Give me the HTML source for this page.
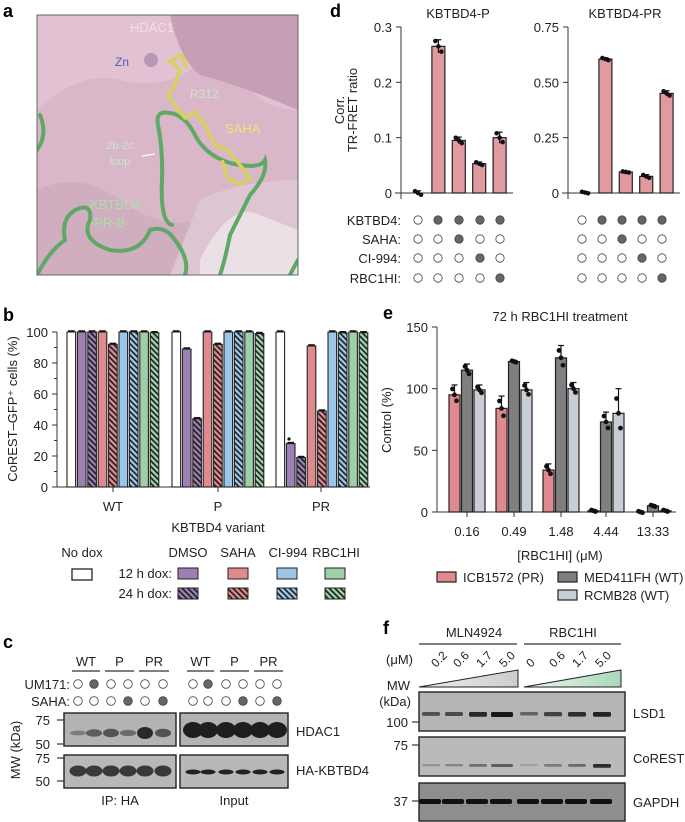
<!DOCTYPE html>
<html><head><meta charset="utf-8"><style>
body{margin:0;background:#fff}
svg{display:block;font-family:"Liberation Sans",Arial,sans-serif}
</style></head><body>
<svg id="s" width="685" height="822" viewBox="0 0 685 822" xmlns="http://www.w3.org/2000/svg">
<defs>
<pattern id="hp" width="4" height="4" patternUnits="userSpaceOnUse" patternTransform="rotate(-45)"><rect width="4" height="4" fill="#9e7fb3"/><rect width="1.6" height="4" fill="#1a1a1a"/></pattern>
<pattern id="hr" width="4" height="4" patternUnits="userSpaceOnUse" patternTransform="rotate(-45)"><rect width="4" height="4" fill="#e08a8f"/><rect width="1.6" height="4" fill="#1a1a1a"/></pattern>
<pattern id="hb" width="4" height="4" patternUnits="userSpaceOnUse" patternTransform="rotate(-45)"><rect width="4" height="4" fill="#9cc6e8"/><rect width="1.6" height="4" fill="#1a1a1a"/></pattern>
<pattern id="hg" width="4" height="4" patternUnits="userSpaceOnUse" patternTransform="rotate(-45)"><rect width="4" height="4" fill="#9dcfa8"/><rect width="1.6" height="4" fill="#1a1a1a"/></pattern>
<linearGradient id="gb" x1="0" x2="1"><stop offset="0" stop-color="#eee"/><stop offset="1" stop-color="#ccc"/></linearGradient>
<linearGradient id="gg" x1="0" x2="1"><stop offset="0" stop-color="#eef6f0"/><stop offset="1" stop-color="#a8d8b8"/></linearGradient>
<clipPath id="ca"><rect x="37" y="15" width="261" height="260"/></clipPath>
</defs>

<!-- Panel a -->
<text x="3" y="17" font-size="18" font-weight="bold">a</text>
<g clip-path="url(#ca)">
<rect x="37" y="15" width="261" height="260" fill="#d9b6c8"/>
<path d="M37 15 H298 V110 Q270 110 250 90 Q220 60 190 70 Q160 90 120 80 Q80 70 37 110Z" fill="#e2c2d2"/>
<path d="M170 15 Q180 60 200 75 Q240 85 298 110 V15Z" fill="#c79fb4"/>
<path d="M37 190 Q80 170 120 200 Q160 230 200 220 Q250 210 298 230 V275 H37Z" fill="#d0adbf"/>
<path d="M200 200 Q240 180 298 180 V275 H170Z" fill="#ddc6d2"/>
<path d="M200 260 Q230 200 260 215 L298 230 V275 H200Z" fill="#ebe0e6"/>
<g fill="none" stroke="#5fa866" stroke-width="4" stroke-linecap="round">
<path d="M172 225 Q160 222 162 180 Q163 150 158 125 Q155 110 170 113 Q185 115 195 135 Q205 155 230 163 Q260 170 265 160 Q268 175 250 195 Q240 215 230 235 Q225 260 220 275"/>
<path d="M37 275 Q50 250 65 240 Q60 215 80 208 Q92 205 90 220 Q80 240 110 250 Q140 255 150 230 Q165 225 175 240 Q190 260 185 275"/>
<path d="M37 150 Q48 135 40 115"/>
<path d="M290 275 Q295 265 298 260"/>
</g>
<g fill="none" stroke="#d6d35a" stroke-width="3.5" stroke-linejoin="round">
<path d="M170 60 L180 70 L175 85 L168 95 L178 110 L185 118 L195 112 L205 125 L215 145 L228 150 L240 165 L250 178 L240 185 L228 178 L222 160"/>
<path d="M168 62 L182 55 L186 68"/>
</g>
<circle cx="151" cy="60" r="7" fill="#9a7aa8" opacity="0.6"/>
<text x="152" y="32" font-size="13" fill="#f2dde8" text-anchor="middle">HDAC1</text>
<text x="115" y="66" font-size="12" fill="#4a5fb0">Zn</text>
<text x="190" y="98" font-size="12" fill="#c8e8c8">R312</text>
<text x="225" y="133" font-size="13" fill="#e8e67a">SAHA</text>
<text x="120" y="149" font-size="11" fill="#c8e8c8" text-anchor="middle">2b-2c</text>
<text x="120" y="165" font-size="11" fill="#c8e8c8" text-anchor="middle">loop</text>
<path d="M142 156 L155 154" stroke="#fff" stroke-width="1.2"/>
<text x="90" y="209" font-size="13" fill="#a8e0a8">KBTBD4</text>
<text x="90" y="227" font-size="13" fill="#a8e0a8">-PR-B</text>
</g>
<rect x="37" y="15" width="261" height="260" fill="none" stroke="#666" stroke-width="1"/>

<text x="3" y="321" font-size="18" font-weight="bold">b</text>
<text x="3" y="648" font-size="18" font-weight="bold">c</text>
<text x="330" y="17" font-size="18" font-weight="bold">d</text>
<text x="383" y="319" font-size="18" font-weight="bold">e</text>
<text x="383" y="634" font-size="18" font-weight="bold">f</text>
</svg>
<script>
var S=document.getElementById('s'),NS='http://www.w3.org/2000/svg';
function el(t,a,txt){var e=document.createElementNS(NS,t);for(var k in a)e.setAttribute(k,a[k]);if(txt!=null)e.textContent=txt;S.appendChild(e);return e;}
function T(x,y,s,o){o=o||{};var a={x:x,y:y,'font-size':o.fs||12,fill:o.fill||'#222'};if(o.a)a['text-anchor']=o.a;if(o.tr)a.transform=o.tr;return el('text',a,s);}
function L(x1,y1,x2,y2,w,c){return el('line',{x1:x1,y1:y1,x2:x2,y2:y2,stroke:c||'#333','stroke-width':w||1});}
function R(x,y,w,h,f,sw){return el('rect',{x:x,y:y,width:w,height:h,fill:f,stroke:'#222','stroke-width':sw||1});}
function C(x,y,r,f,st){return el('circle',{cx:x,cy:y,r:r,fill:f,stroke:st||'none','stroke-width':0.8});}

// ---- Panel b
(function(){
var y0=487,y100=332,sc=(y0-y100)/100;
L(57,332,57,487);L(57,487,370,487);
[0,20,40,60,80,100].forEach(function(v){var y=y0-v*sc;L(52,y,57,y);T(48,y+5,String(v),{a:'end',fs:13});});
[10,30,50,70,90].forEach(function(v){var y=y0-v*sc;L(54,y,57,y);});
T(17,409,'CoREST–GFP⁺ cells (%)',{a:'middle',fs:13,tr:'rotate(-90 17 409)'});
var fills=['#fff','#9e7fb3','url(#hp)','#e08a8f','url(#hr)','#9cc6e8','url(#hb)','#9dcfa8','url(#hg)'];
var data=[[100,100,100,100,92,100,100,100,99.5],[100,89,44,100,92,100,100,100,99],[100,28,19,91,49,100,99.5,100,99.5]];
var starts=[67,172,276];
data.forEach(function(g,gi){g.forEach(function(v,i){var x=starts[gi]+i*10.4,h=v*sc;R(x,y0-h,8.6,h,fills[i],1.1);L(x+1,y0-h-1,x+7.6,y0-h-1,1.5,'#111');});});
C(289,y0-31*sc,1.6,'#111');
[['WT',113],['P',218],['PR',321]].forEach(function(p){L(p[1],487,p[1],492);T(p[1],511,p[0],{a:'middle',fs:13});});
T(218,532,'KBTBD4 variant',{a:'middle',fs:13});
T(82,557,'No dox',{a:'middle',fs:13});
R(72,569,20,11,'#fff',1.3);
T(188,557,'DMSO',{a:'middle',fs:13});T(238,557,'SAHA',{a:'middle',fs:13});T(288,557,'CI-994',{a:'middle',fs:13});T(336,557,'RBC1HI',{a:'middle',fs:13});
T(172,578,'12 h dox:',{a:'end',fs:13});T(172,598,'24 h dox:',{a:'end',fs:13});
var xs=[178,228,277,325],c1=['#9e7fb3','#e08a8f','#9cc6e8','#9dcfa8'],c2=['url(#hp)','url(#hr)','url(#hb)','url(#hg)'];
xs.forEach(function(x,i){R(x,568,20,11,c1[i]);R(x,588,20,11,c2[i]);});
})();

// ---- Panel c
(function(){
var ipx=[78,94,111,128,145,163],inx=[193,208,226,243,260,277];
var um=[0,1,0,0,0,0],sa=[0,0,0,1,0,1];
[[ipx,0],[inx,1]].forEach(function(p){var xs=p[0];
 [['WT',0],['P',2],['PR',4]].forEach(function(g){var a=xs[g[1]],b=xs[g[1]+1];T((a+b)/2,666,g[0],{a:'middle',fs:13});L(a-6,671,b+6,671,1.2);});
 xs.forEach(function(x,i){C(x,684,4.3,um[i]?'#666':'#fff','#444');C(x,701,4.3,sa[i]?'#666':'#fff','#444');});
});
T(70,689,'UM171:',{a:'end',fs:13});T(70,706,'SAHA:',{a:'end',fs:13});
[[64,176],[180,288]].forEach(function(b){el('rect',{x:b[0],y:713,width:b[1]-b[0],height:33,fill:'#b3b3b3',stroke:'#222','stroke-width':1.4});el('rect',{x:b[0],y:755,width:b[1]-b[0],height:33,fill:'#b8b8b8',stroke:'#222','stroke-width':1.4});});
var ipI=[0.1,0.45,0.55,0.3,1,0.55];
ipx.forEach(function(x,i){el('ellipse',{cx:x,cy:733,rx:8,ry:2+4*ipI[i],fill:'#222',opacity:0.3+0.65*ipI[i]});el('ellipse',{cx:x,cy:771,rx:8.5,ry:5.5,fill:'#222',opacity:0.85});});
inx.forEach(function(x){el('ellipse',{cx:x,cy:730,rx:10,ry:8,fill:'#1e1e1e'});el('ellipse',{cx:x,cy:772,rx:7.5,ry:2.5,fill:'#222'});});
[[75,720],[50,744],[75,758],[50,781]].forEach(function(m){L(57,m[1],64,m[1],1.2);T(50,m[1]+5,String(m[0]),{a:'end',fs:13});});
T(20,750,'MW (kDa)',{a:'middle',fs:13,tr:'rotate(-90 20 750)'});
T(296,736,'HDAC1',{fs:13});T(296,775,'HA-KBTBD4',{fs:13});
T(120,805,'IP: HA',{a:'middle',fs:13});T(234,805,'Input',{a:'middle',fs:13});
})();

// ---- Panel d
(function(){
function chart(ax,max,ticks,vals,title,pts){
 var y0=193,yt=27,sc=(y0-yt)/max;
 L(ax,yt,ax,y0+6);L(ax-6,y0,ax+112,y0);
 ticks.forEach(function(t){var y=y0-t[0]*sc;L(ax-5,y,ax,y);T(ax-9,y+5,t[1],{a:'end',fs:13});});
 T(ax+57,18,title,{a:'middle',fs:13});
 vals.forEach(function(v,i){var cx=ax+17+i*20.4,h=v*sc;if(h>0.5)R(cx-6.5,y0-h,13,h,'#e19a9f',1.2);
  var e=pts[i]*sc;L(cx,y0-h-e,cx,y0-h+e,1.2,'#111');L(cx-3,y0-h-e,cx+3,y0-h-e,1.2,'#111');
  [-3,0,3].forEach(function(d,k){C(cx+d,y0-h+(k-1)*e*0.8,2.3,'#111');});});
 return ax;
}
chart(401,0.3,[[0,'0'],[0.1,'0.1'],[0.2,'0.2'],[0.3,'0.3']],[0,0.265,0.095,0.053,0.1],'KBTBD4-P',[0.004,0.012,0.006,0.003,0.01]);
chart(568,0.75,[[0,'0'],[0.25,'0.25'],[0.5,'0.50'],[0.75,'0.75']],[0.002,0.605,0.095,0.075,0.45],'KBTBD4-PR',[0.004,0.006,0.003,0.008,0.012]);
T(344,110,'Corr.',{a:'middle',fs:13,tr:'rotate(-90 344 110)'});
T(357,110,'TR-FRET ratio',{a:'middle',fs:13,tr:'rotate(-90 357 110)'});
var rows=[['KBTBD4:',220,[0,1,1,1,1]],['SAHA:',239,[0,0,1,0,0]],['CI-994:',258,[0,0,0,1,0]],['RBC1HI:',278,[0,0,0,0,1]]];
rows.forEach(function(r){T(401,r[1]+5,r[0],{a:'end',fs:13});
 [418,438,459,480,500].forEach(function(x,i){C(x,r[1],4.2,r[2][i]?'#666':'#fff','#444');});
 [582,602,622,642,662].forEach(function(x,i){C(x,r[1],4.2,r[2][i]?'#666':'#fff','#444');});});
})();

// ---- Panel e
(function(){
var y0=512,yt=327,sc=(y0-yt)/150,ax=437;
L(ax,yt,ax,y0);L(ax,y0,676,y0);
[[0,'0'],[50,'50'],[100,'100'],[150,'150']].forEach(function(t){var y=y0-t[0]*sc;L(ax-5,y,ax,y);T(ax-9,y+5,t[1],{a:'end',fs:13});});
T(560,321,'72 h RBC1HI treatment',{a:'middle',fs:13});
T(391,420,'Control (%)',{a:'middle',fs:13,tr:'rotate(-90 391 420)'});
var g=[[467,'0.16',[95,115,99],[8,5,4]],[514,'0.49',[84,122,99],[10,1,6]],[561,'1.48',[34,125,100],[5,10,5]],[606,'4.44',[1,73,80],[1,8,20]],[653,'13.33',[0,5,1],[1,1,1]]];
var cols=['#e08a8f','#7f7f7f','#c8cdd6'];
g.forEach(function(gr){L(gr[0],y0,gr[0],y0+5);T(gr[0],536,gr[1],{a:'middle',fs:13});
 gr[2].forEach(function(v,i){var cx=gr[0]+(i-1)*12.5,h=v*sc;if(h>0.5)R(cx-5.5,y0-h,11,h,cols[i],1.2);
  var e=gr[3][i]*sc;L(cx,y0-h-e,cx,y0-h,1.2,'#111');L(cx-3,y0-h-e,cx+3,y0-h-e,1.2,'#111');
  [[-2,-e*0.6],[2,e*0.6],[0,0]].forEach(function(d){C(cx+d[0],y0-h+d[1],2.4,'#111');});});});
T(560,560,'[RBC1HI] (μM)',{a:'middle',fs:13});
R(437,572,19,10,'#e08a8f',1.2);T(463,582,'ICB1572 (PR)',{fs:13});
R(558,572,19,10,'#7f7f7f',1.2);T(584,582,'MED411FH (WT)',{fs:13});
R(558,590,19,10,'#c8cdd6',1.2);T(584,600,'RCMB28 (WT)',{fs:13});
})();

// ---- Panel f
(function(){
T(474,637,'MLN4924',{a:'middle',fs:13});L(419,644,517,644,1.2);
T(573,637,'RBC1HI',{a:'middle',fs:13});L(524,644,621,644,1.2);
T(386,664,'(μM)',{fs:13});
var lx=[436,458,481,504,531,554,577,600],lab=['0.2','0.6','1.7','5.0','0','0.6','1.7','5.0'];
lx.forEach(function(x,i){T(x,668,lab[i],{fs:12,tr:'rotate(-45 '+x+' 668)'});});
el('path',{d:'M419 687 L518 670 L518 687Z',fill:'url(#gb)',stroke:'#222','stroke-width':1});
el('path',{d:'M524 687 L621 670 L621 687Z',fill:'url(#gg)',stroke:'#222','stroke-width':1});
T(410,690,'MW',{a:'end',fs:13});T(411,706,'(kDa)',{a:'end',fs:13});
var bx=[429,452,476,500,527,551,575,600];
el('rect',{x:419,y:692,width:206,height:39,fill:'#b5b5b5',stroke:'#222','stroke-width':1.4});
el('rect',{x:419,y:737,width:206,height:39,fill:'#bababa',stroke:'#222','stroke-width':1.4});
el('rect',{x:419,y:783,width:206,height:38,fill:'#8e8e8e',stroke:'#222','stroke-width':1.4});
var l1=[0.45,0.5,0.85,1,0.25,0.6,0.8,0.9],l2=[0.1,0.2,0.35,0.5,0,0.3,0.4,0.85];
bx.forEach(function(x,i){var w=i==3?22:18;
 el('rect',{x:x-w/2+2,y:712,width:w,height:3+2*l1[i],fill:'#111',opacity:0.35+0.6*l1[i],rx:1.5});
 el('rect',{x:x-w/2+2,y:764,width:w,height:2+2*l2[i],fill:'#111',opacity:0.15+0.8*l2[i],rx:1.5});
 el('rect',{x:x-10,y:799,width:22,height:5,fill:'#111',rx:2});});
[[100,722],[75,745],[37,801]].forEach(function(m){L(412,m[1],419,m[1],1.2);T(408,m[1]+5,String(m[0]),{a:'end',fs:13});});
T(633,718,'LSD1',{fs:13});T(633,763,'CoREST',{fs:13});T(633,807,'GAPDH',{fs:13});
})();
</script>
</body></html>
